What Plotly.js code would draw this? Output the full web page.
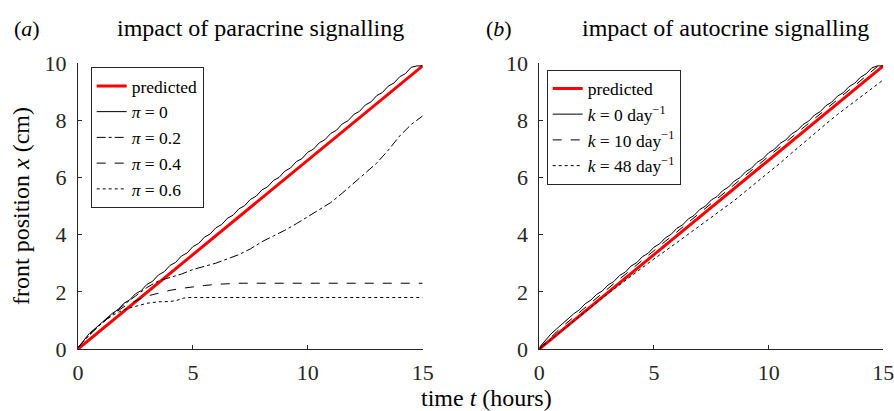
<!DOCTYPE html>
<html>
<head>
<meta charset="utf-8">
<script src="https://cdn.plot.ly/plotly-3.0.1.min.js"></script>
<style>html,body{margin:0;padding:0;background:#fff;}#chart{width:894px;height:411px;}</style>
</head>
<body>
<div id="chart"></div>
<script>
// ---- data ----
const tPred = [0, 15];
const xPred = [0, 9.9];

const tFine = [0,0.25,0.5,0.75,1,1.25,1.5,1.75,2,2.25,2.5,2.75,3,3.25,3.5,3.75,4,4.25,4.5,4.75,5,5.25,5.5,5.75,6,6.25,6.5,6.75,7,7.25,7.5,7.75,8,8.25,8.5,8.75,9,9.25,9.5,9.75,10,10.25,10.5,10.75,11,11.25,11.5,11.75,12,12.25,12.5,12.75,13,13.25,13.5,13.75,14,14.25,14.5,14.75,15];

// panel (a): paracrine
const xPi0 = [0.05,0.3,0.55,0.72,0.9,1.05,1.25,1.38,1.6,1.72,1.93,2.04,2.26,2.37,2.59,2.7,2.92,3.03,3.25,3.36,3.58,3.69,3.91,4.02,4.24,4.35,4.57,4.68,4.9,5.01,5.23,5.34,5.56,5.67,5.89,6.0,6.22,6.33,6.55,6.66,6.88,6.99,7.21,7.32,7.54,7.65,7.87,7.98,8.2,8.31,8.53,8.64,8.86,8.97,9.19,9.3,9.52,9.63,9.85,9.9,9.9];

const tPi02 = [0,0.5,1,1.5,2,2.5,3,3.5,4,4.5,5,5.5,6,6.5,7,7.5,8,8.5,9,9.5,10,10.5,11,11.5,12,12.5,13,13.5,14,14.5,15];
const xPi02 = [0.05,0.5,0.88,1.22,1.55,1.85,2.15,2.38,2.5,2.62,2.78,2.88,3.0,3.15,3.3,3.5,3.75,3.95,4.15,4.38,4.62,4.85,5.12,5.45,5.8,6.12,6.5,6.95,7.45,7.85,8.15];

const tPi04 = [0,0.5,1,1.5,2,2.5,3,3.5,4,4.5,5,5.5,6,6.5,7,15];
const xPi04 = [0.05,0.5,0.88,1.2,1.48,1.68,1.85,1.95,2.05,2.12,2.18,2.22,2.26,2.28,2.3,2.3];

const tPi06 = [0,0.5,1,1.5,2,2.5,3,3.5,4,4.3,4.6,4.8,15];
const xPi06 = [0.05,0.5,0.88,1.18,1.38,1.5,1.6,1.65,1.66,1.7,1.78,1.8,1.8];

// panel (b): autocrine
const xK0 = [0.05,0.3,0.52,0.7,0.88,1.04,1.23,1.37,1.58,1.71,1.91,2.03,2.24,2.36,2.57,2.69,2.9,3.02,3.23,3.35,3.56,3.68,3.89,4.01,4.22,4.34,4.55,4.67,4.88,5.0,5.21,5.33,5.54,5.66,5.87,5.99,6.2,6.32,6.53,6.65,6.86,6.98,7.19,7.31,7.52,7.64,7.85,7.97,8.18,8.3,8.51,8.63,8.84,8.96,9.17,9.29,9.5,9.62,9.83,9.9,9.9];
const xK10 = [0,0.2,0.42,0.6,0.78,0.95,1.12,1.28,1.46,1.62,1.79,1.95,2.12,2.28,2.45,2.61,2.78,2.94,3.11,3.27,3.44,3.6,3.77,3.93,4.1,4.26,4.43,4.59,4.76,4.92,5.09,5.25,5.42,5.58,5.75,5.91,6.08,6.24,6.41,6.57,6.74,6.9,7.07,7.23,7.4,7.56,7.73,7.89,8.06,8.22,8.39,8.55,8.72,8.88,9.05,9.21,9.38,9.54,9.71,9.88,9.9];
const tK48 = [0,0.5,1,1.5,2,2.5,3,3.5,4,4.5,5,5.5,6,6.5,7,7.5,8,8.5,9,9.5,10,10.5,11,11.5,12,12.5,13,13.5,14,14.5,15];
const xK48 = [0,0.33,0.65,0.98,1.3,1.62,1.94,2.25,2.55,2.85,3.15,3.43,3.72,4.02,4.3,4.6,4.88,5.19,5.52,5.84,6.17,6.5,6.85,7.2,7.55,7.87,8.2,8.5,8.8,9.1,9.41];

const xTicks = [0, 5, 10, 15];
const yTicks = [0, 2, 4, 6, 8, 10];

const labelsA = ['predicted', '<i>π</i> = 0', '<i>π</i> = 0.2', '<i>π</i> = 0.4', '<i>π</i> = 0.6'];
const labelsB = ['predicted', '<i>k</i> = 0 day<sup>−1</sup>', '<i>k</i> = 10 day<sup>−1</sup>', '<i>k</i> = 48 day<sup>−1</sup>'];

// ---- styling helpers ----
const FONT = '"Liberation Serif", "DejaVu Serif", serif';
const AX = '#262626';
const W = 894, H = 411;
const px = v => v / W;
const py = v => 1 - v / H;

const red = {color: '#ff0000', width: 3};
const blk = d => ({color: '#000', width: 1, dash: d});

const traces = [
  {x: tPred, y: xPred, name: labelsA[0], line: red, xaxis: 'x', yaxis: 'y', legend: 'legend'},
  {x: tFine, y: xPi0, name: labelsA[1], line: blk('solid'), xaxis: 'x', yaxis: 'y', legend: 'legend'},
  {x: tPi02, y: xPi02, name: labelsA[2], line: blk('dashdot'), xaxis: 'x', yaxis: 'y', legend: 'legend'},
  {x: tPi04, y: xPi04, name: labelsA[3], line: blk('dash'), xaxis: 'x', yaxis: 'y', legend: 'legend'},
  {x: tPi06, y: xPi06, name: labelsA[4], line: blk('dot'), xaxis: 'x', yaxis: 'y', legend: 'legend'},
  {x: tPred, y: xPred, name: labelsB[0], line: red, xaxis: 'x2', yaxis: 'y2', legend: 'legend2'},
  {x: tFine, y: xK0, name: labelsB[1], line: blk('solid'), xaxis: 'x2', yaxis: 'y2', legend: 'legend2'},
  {x: tFine, y: xK10, name: labelsB[2], line: blk('dash'), xaxis: 'x2', yaxis: 'y2', legend: 'legend2'},
  {x: tK48, y: xK48, name: labelsB[3], line: blk('dot'), xaxis: 'x2', yaxis: 'y2', legend: 'legend2'}
].map(t => Object.assign({type: 'scatter', mode: 'lines', hoverinfo: 'skip'}, t));

function xax(dom, anchor) {
  return {domain: dom, anchor: anchor, range: [0, 15], tickvals: xTicks, ticktext: xTicks.map(String),
    showline: true, linecolor: AX, linewidth: 1, ticks: 'inside', ticklen: 4, tickcolor: AX,
    showgrid: false, zeroline: false, tickfont: {family: FONT, size: 22, color: AX}, ticklabelstandoff: 4,
    ticklabeloverflow: 'allow', automargin: false};
}
function yax(dom, anchor) {
  return {domain: dom, anchor: anchor, range: [0, 10], tickvals: yTicks, ticktext: yTicks.map(String),
    showline: true, linecolor: AX, linewidth: 1, ticks: 'inside', ticklen: 4, tickcolor: AX,
    showgrid: false, zeroline: false, tickfont: {family: FONT, size: 22, color: AX}, ticklabelstandoff: 6,
    ticklabeloverflow: 'allow', automargin: false};
}
const yDom = [py(349), py(63)];

function legendAt(x, y) {
  return {x: px(x), y: py(y), xanchor: 'left', yanchor: 'top', bgcolor: '#fff', bordercolor: AX, borderwidth: 1,
    font: {family: FONT, size: 17.5, color: '#000'}, tracegroupgap: 0, itemwidth: 30, itemclick: false};
}

const ann = (x, y, text, size, extra) => Object.assign({xref: 'paper', yref: 'paper', x: px(x), y: py(y),
  text: text, showarrow: false, font: {family: FONT, size: size, color: '#000'}, xanchor: 'center', yanchor: 'middle'}, extra || {});

const layout = {
  width: W, height: H, margin: {l: 0, r: 0, t: 0, b: 0}, paper_bgcolor: '#fff', plot_bgcolor: 'rgba(0,0,0,0)',
  showlegend: true,
  font: {family: FONT},
  xaxis: xax([px(78), px(422.7)], 'y'),
  yaxis: yax(yDom, 'x'),
  xaxis2: xax([px(539.3), px(883.3)], 'y2'),
  yaxis2: yax(yDom, 'x2'),
  legend: legendAt(90.7, 67),
  legend2: legendAt(546.7, 69.5),
  annotations: [
    ann(12, 28, '(<i>a</i>)', 22, {xanchor: 'left'}),
    ann(260, 28, 'impact of paracrine signalling', 24),
    ann(484, 28, '(<i>b</i>)', 22, {xanchor: 'left'}),
    ann(725, 28, 'impact of autocrine signalling', 24),
    ann(486, 398, 'time <i>t</i> (hours)', 24),
    ann(21, 206, 'front position <i>x</i> (cm)', 24, {textangle: -90})
  ]
};

Plotly.newPlot('chart', traces, layout, {staticPlot: true, displayModeBar: false});
</script>
</body>
</html>
